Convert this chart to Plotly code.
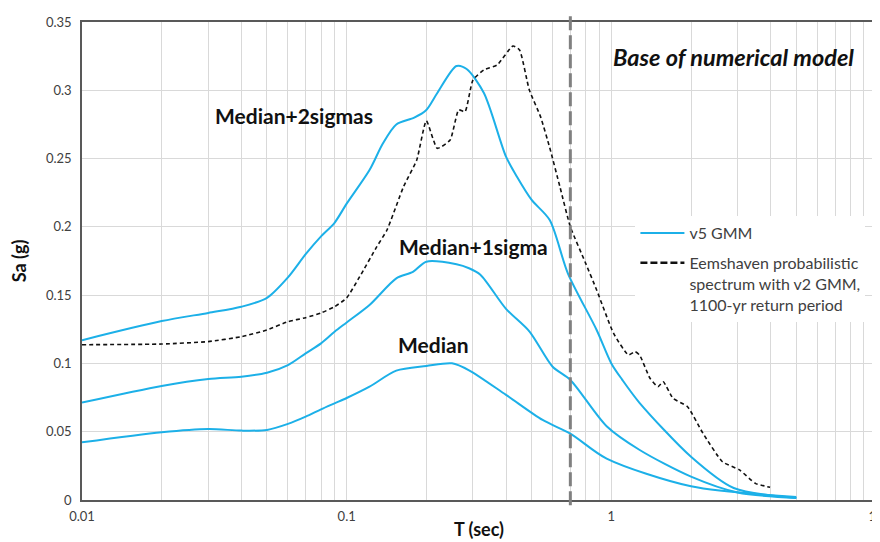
import plotly.graph_objects as go

# ---- data ----
T_2sig = [0.01, 0.02, 0.03, 0.04, 0.05, 0.06, 0.07, 0.08, 0.09, 0.1, 0.122, 0.137, 0.154, 0.18, 0.2,
          0.22, 0.26, 0.284, 0.33, 0.4, 0.44, 0.5, 0.585, 0.685, 0.88, 1.0, 1.1, 1.28, 2.0, 2.9, 5.0]
Sa_2sig = [0.117, 0.131, 0.137, 0.1415, 0.148, 0.163, 0.180, 0.193, 0.203, 0.217, 0.2416, 0.261, 0.275, 0.280, 0.2856,
           0.298, 0.3178, 0.3156, 0.298, 0.2514, 0.2367, 0.2197, 0.205, 0.166, 0.1245, 0.100, 0.088, 0.071, 0.0317, 0.0088, 0.0015]

T_1sig = [0.01, 0.02, 0.03, 0.04, 0.05, 0.06, 0.07, 0.08, 0.09, 0.1, 0.122, 0.154, 0.178, 0.2, 0.26, 0.29,
          0.32, 0.4, 0.49, 0.6, 0.7, 0.96, 1.28, 2.0, 3.0, 5.0]
Sa_1sig = [0.0713, 0.0835, 0.0886, 0.0903, 0.0932, 0.0988, 0.1074, 0.1147, 0.1232, 0.1300, 0.1428, 0.1623, 0.167, 0.1745,
           0.1726, 0.1697, 0.165, 0.140, 0.1235, 0.0976, 0.0879, 0.054, 0.0366, 0.0171, 0.0055, 0.0015]

T_med = [0.01, 0.02, 0.03, 0.04, 0.05, 0.06, 0.07, 0.08, 0.09, 0.1, 0.122, 0.154, 0.2, 0.25, 0.29,
         0.4, 0.55, 0.7, 0.96, 2.0, 5.0]
Sa_med = [0.0422, 0.0496, 0.052, 0.0508, 0.0513, 0.0557, 0.061, 0.0664, 0.0708, 0.0747, 0.083, 0.0947, 0.0981,
          0.1001, 0.095, 0.077, 0.0586, 0.0486, 0.0303, 0.010, 0.0022]

T_eem = [0.01, 0.02, 0.03, 0.04, 0.05, 0.06, 0.07, 0.08, 0.09, 0.1, 0.112, 0.13, 0.142, 0.164, 0.184, 0.2,
         0.22, 0.246, 0.265, 0.28, 0.3, 0.33, 0.37, 0.425, 0.45, 0.49, 0.54, 0.585, 0.64, 0.7, 0.8, 0.88,
         1.02, 1.16, 1.23, 1.28, 1.4, 1.5, 1.57, 1.71, 1.94, 2.22, 2.63, 3.05, 3.5, 3.98]
Sa_eem = [0.1137, 0.1142, 0.116, 0.1196, 0.1245, 0.1306, 0.1335, 0.137, 0.1415, 0.148, 0.1635, 0.1855, 0.1977,
          0.2294, 0.249, 0.2777, 0.2575, 0.2636, 0.2856, 0.2843, 0.3075, 0.3149, 0.3185, 0.3324, 0.3295, 0.3002,
          0.2807, 0.258, 0.229, 0.2001, 0.1733, 0.1538, 0.122, 0.1062, 0.1086, 0.106, 0.0891, 0.083, 0.0866,
          0.0745, 0.0683, 0.0488, 0.028, 0.022, 0.0122, 0.0093]

base_T = 0.7
x_ticks = [0.01, 0.1, 1, 10]
x_tick_text = ["0.01", "0.1", "1", "10"]
x_minor = [m * d for d in (0.01, 0.1, 1) for m in range(2, 10)]
y_ticks = [0, 0.05, 0.1, 0.15, 0.2, 0.25, 0.3, 0.35]
y_tick_text = ["0", "0.05", "0.1", "0.15", "0.2", "0.25", "0.3", "0.35"]

BLUE = "#1cb0e8"
FONT = "Lato"
EEM_NAME = "Eemshaven probabilistic<br>spectrum with v2 GMM,<br>1100-yr return period"

fig = go.Figure()
fig.add_trace(go.Scatter(x=T_2sig, y=Sa_2sig, mode="lines", name="v5 GMM",
                         line=dict(color=BLUE, width=2, shape="spline", smoothing=0.8),
                         legendgroup="v5", showlegend=True))
fig.add_trace(go.Scatter(x=T_1sig, y=Sa_1sig, mode="lines", name="v5 GMM",
                         line=dict(color=BLUE, width=2, shape="spline", smoothing=0.8),
                         legendgroup="v5", showlegend=False))
fig.add_trace(go.Scatter(x=T_med, y=Sa_med, mode="lines", name="v5 GMM",
                         line=dict(color=BLUE, width=2, shape="spline", smoothing=0.8),
                         legendgroup="v5", showlegend=False))
fig.add_trace(go.Scatter(x=T_eem, y=Sa_eem, mode="lines", name=EEM_NAME,
                         line=dict(color="#111111", width=1.6, dash="4px,3px", shape="spline", smoothing=0.5),
                         legendgroup="eem", showlegend=False))
# legend entry for the dashed spectrum (longer dashes, as in the legend of the reference)
fig.add_trace(go.Scatter(x=[None], y=[None], mode="lines", name=EEM_NAME,
                         line=dict(color="#111111", width=2.4, dash="7px,3px"),
                         legendgroup="eem", showlegend=True))

fig.add_shape(type="line", xref="x", yref="paper", x0=base_T, x1=base_T, y0=-0.011, y1=1.019,
              line=dict(color="#808080", width=3, dash="14px,5px"), layer="above")

ann_font = dict(family=FONT, size=21, color="#111111")
fig.add_annotation(xref="paper", yref="paper", x=0.82, y=0.927, text="<b><i>Base of numerical model</i></b>",
                   showarrow=False, font=dict(family=FONT, size=23.5, color="#111111"),
                   xanchor="center", yanchor="middle")
fig.add_annotation(xref="paper", yref="paper", x=0.267, y=0.805, text="<b>Median+2sigmas</b>",
                   showarrow=False, font=ann_font, xanchor="center", yanchor="middle")
fig.add_annotation(xref="paper", yref="paper", x=0.4925, y=0.531, text="<b>Median+1sigma</b>",
                   showarrow=False, font=ann_font, xanchor="center", yanchor="middle")
fig.add_annotation(xref="paper", yref="paper", x=0.443, y=0.326, text="<b>Median</b>",
                   showarrow=False, font=ann_font, xanchor="center", yanchor="middle")

grid = "#d9d9d9"
fig.update_xaxes(type="log", range=[-2, 1], tickvals=x_ticks, ticktext=x_tick_text,
                 showgrid=True, gridcolor=grid, gridwidth=1,
                 minor=dict(showgrid=True, gridcolor=grid, gridwidth=1, tickvals=x_minor, ticks=""),
                 showline=True, linecolor="#595959", linewidth=1.5, mirror=True,
                 ticks="outside", ticklen=4, tickcolor="rgba(0,0,0,0)", ticklabeloverflow="allow",
                 tickfont=dict(family=FONT, size=13, color="#404040"),
                 title=dict(text="<b>T (sec)</b>", font=dict(family=FONT, size=18, color="#111111"), standoff=0),
                 zeroline=False, automargin=False)
fig.update_yaxes(range=[0, 0.35], tickvals=y_ticks, ticktext=y_tick_text,
                 showgrid=True, gridcolor=grid, gridwidth=1,
                 showline=True, linecolor="#595959", linewidth=1.5, mirror=True,
                 ticks="outside", ticklen=6, tickcolor="rgba(0,0,0,0)",
                 tickfont=dict(family=FONT, size=13, color="#404040"),
                 title=dict(text="<b>Sa (g)</b>", font=dict(family=FONT, size=18, color="#111111"), standoff=20),
                 zeroline=False, automargin=False)

# the page adds an 8px body margin, so the figure is 8px smaller and margins 8px tighter
fig.update_layout(width=872, height=534, margin=dict(l=74, r=4, t=14, b=42),
                  plot_bgcolor="white", paper_bgcolor="white",
                  font=dict(family=FONT),
                  legend=dict(x=0.697, y=0.594, xanchor="left", yanchor="top", bgcolor="white",
                              font=dict(family=FONT, size=16, color="#404040"), valign="top",
                              itemwidth=44, tracegroupgap=6, borderwidth=0))

fig.write_html("out.html")
